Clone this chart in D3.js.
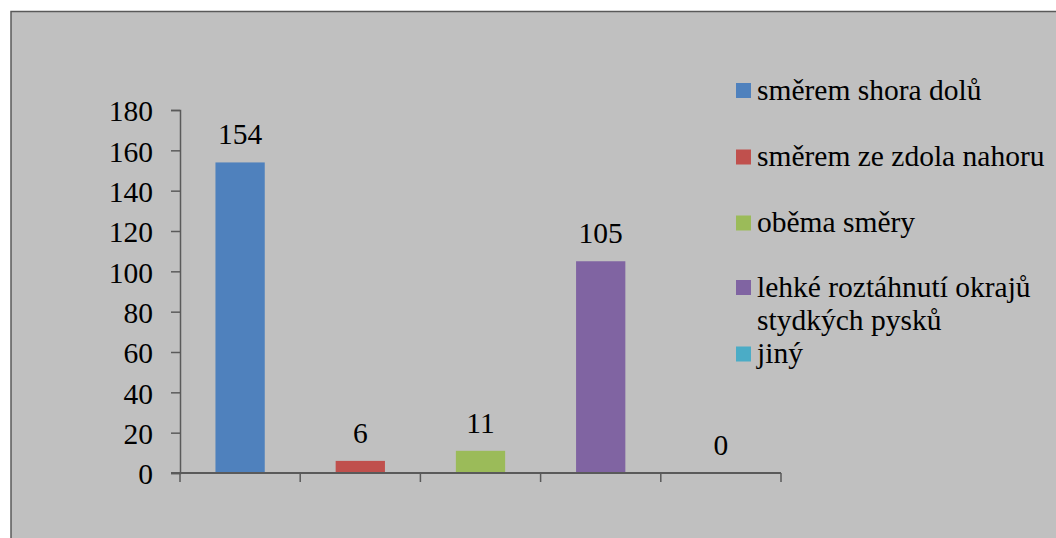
<!DOCTYPE html>
<html>
<head>
<meta charset="utf-8">
<script src="https://cdn.jsdelivr.net/npm/d3@7"></script>
<style>
  html, body { margin: 0; padding: 0; background: #ffffff; overflow: hidden; }
  svg { display: block; }
</style>
</head>
<body>
<svg id="chart" width="1056" height="538"></svg>
<script>
// Categories, counts and colours of the bar chart
const categories = [
  "směrem shora dolů",
  "směrem ze zdola nahoru",
  "oběma směry",
  "lehké roztáhnutí okrajů stydkých pysků",
  "jiný"
];
const values = [154, 6, 11, 105, 0];
const colors = ["#4F81BD", "#C0504D", "#9BBB59", "#8064A2", "#4BACC6"];
const yTicks = [0, 20, 40, 60, 80, 100, 120, 140, 160, 180];
// Legend labels broken into lines
const legendLines = [
  ["směrem shora dolů"],
  ["směrem ze zdola nahoru"],
  ["oběma směry"],
  ["lehké roztáhnutí okrajů", "stydkých pysků"],
  ["jiný"]
];

const FONT_FAMILY = "Liberation Serif";
const FONT_SIZE = 29.5;

// Applies the serif face to a text selection
function serif(sel) {
  sel.attr("font-family", FONT_FAMILY)
    .attr("font-size", FONT_SIZE)
    .style("font-family", FONT_FAMILY)
    .style("font-size", FONT_SIZE + "px")
    .attr("fill", "#000");
}

const svg = d3.select("#chart");

// Chart area frame (continues past the right and bottom edges)
svg.append("rect")
  .attr("x", 11).attr("y", 11.5)
  .attr("width", 1100).attr("height", 600)
  .attr("fill", "#C0C0C0")
  .attr("stroke", "#595959")
  .attr("stroke-width", 1.5);

const plot = { left: 180, right: 781, top: 110, bottom: 473 };

const x = d3.scaleBand()
  .domain(categories)
  .range([plot.left, plot.right])
  .paddingInner(0.59)
  .paddingOuter(0.295);

const y = d3.scaleLinear()
  .domain([0, 180])
  .range([plot.bottom, plot.top]);

const axisColor = "#5a5a5a";

// Y axis
const yAxis = svg.append("g")
  .attr("transform", `translate(${plot.left},0)`)
  .call(d3.axisLeft(y).tickValues(yTicks).tickSize(9).tickPadding(18).tickFormat(d3.format("d")));
yAxis.attr("font-family", FONT_FAMILY).attr("font-size", FONT_SIZE);
yAxis.select(".domain").attr("stroke", axisColor).attr("stroke-width", 1.5);
yAxis.selectAll(".tick line").attr("stroke", axisColor).attr("stroke-width", 1.5);
yAxis.selectAll(".tick text")
  .call(serif)
  .attr("dy", "0.37em");

// Bars
svg.append("g").selectAll("rect")
  .data(categories)
  .join("rect")
  .attr("x", d => x(d))
  .attr("width", x.bandwidth())
  .attr("y", (d, i) => y(values[i]))
  .attr("height", (d, i) => y(0) - y(values[i]))
  .attr("fill", (d, i) => colors[i]);

// X axis with boundary ticks between categories
const boundaries = d3.range(categories.length + 1).map(i => plot.left + i * x.step());
const xg = svg.append("g");
xg.append("line")
  .attr("x1", plot.left - 9).attr("x2", plot.right)
  .attr("y1", y(0)).attr("y2", y(0))
  .attr("stroke", axisColor).attr("stroke-width", 2);
xg.selectAll("line.tick")
  .data(boundaries)
  .join("line")
  .attr("class", "tick")
  .attr("x1", d => d).attr("x2", d => d)
  .attr("y1", y(0)).attr("y2", y(0) + 9)
  .attr("stroke", axisColor).attr("stroke-width", 1.5);

// Value labels
svg.append("g").selectAll("text")
  .data(categories)
  .join("text")
  .attr("x", d => x(d) + x.bandwidth() / 2)
  .attr("y", (d, i) => y(values[i]) - 18)
  .attr("text-anchor", "middle")
  .call(serif)
  .text((d, i) => values[i]);

// Legend
const legendY = [90.5, 157, 223, 287.5, 354];
const legend = svg.append("g");
legendLines.forEach((lines, i) => {
  const row = legend.append("g");
  row.append("rect")
    .attr("x", 736).attr("y", legendY[i] - 7.5)
    .attr("width", 15).attr("height", 15)
    .attr("fill", colors[i]);
  lines.forEach((t, j) => {
    row.append("text")
      .attr("x", 757)
      .attr("y", legendY[i] + 9 + j * 33.5)
      .call(serif)
      .text(t);
  });
});
</script>
</body>
</html>
